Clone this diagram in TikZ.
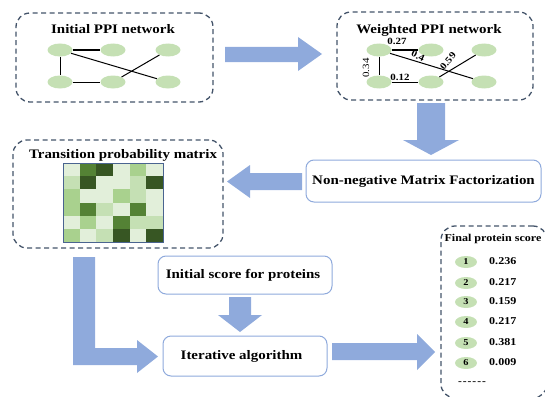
\documentclass[tikz,border=0pt]{standalone}
\usepackage{fontspec}
\setmainfont[FakeStretch=1.15]{Liberation Serif}
\usetikzlibrary{shapes.geometric}
\definecolor{arrowblue}{HTML}{8FAADC}
\definecolor{dashblue}{HTML}{44546A}
\definecolor{nodegreen}{HTML}{C5E0B4}
\definecolor{gA}{HTML}{E2EFDA}
\definecolor{gB}{HTML}{C5E0B4}
\definecolor{gC}{HTML}{A9D18E}
\definecolor{gD}{HTML}{548235}
\definecolor{gE}{HTML}{375623}
\definecolor{matborder}{HTML}{4A6490}
\begin{document}
\begin{tikzpicture}[x=1pt,y=-1pt,
  dashbox/.style={draw=dashblue, line width=1.3pt, dash pattern=on 5pt off 3.5pt, rounded corners=14pt, inner sep=0pt},
  solidbox/.style={draw=arrowblue, line width=1pt, rounded corners=8pt, fill=white, inner sep=0pt},
  ppi/.style={ellipse, fill=nodegreen, minimum width=25pt, minimum height=13pt, inner sep=0pt},
  snode/.style={ellipse, fill=nodegreen, minimum width=22pt, minimum height=12pt, inner sep=0pt, font=\bfseries\fontsize{9}{10}\selectfont},
  ttl/.style={font=\bfseries\fontsize{13}{15}\selectfont, inner sep=0pt},
  wlab/.style={font=\bfseries\fontsize{9.5}{11}\selectfont, inner sep=0pt},
  sval/.style={font=\bfseries\fontsize{10.5}{12}\selectfont, inner sep=0pt, anchor=west},
  edge/.style={line width=1pt, black},
  fat/.style={fill=arrowblue}
]
\useasboundingbox (0,0) rectangle (545,396);

% dashed boxes
\node[dashbox, minimum width=197pt, minimum height=89pt] (box1) at (114.5,57.5) {};
\node[dashbox, minimum width=196pt, minimum height=88pt] (box2) at (435,56) {};
\node[dashbox, minimum width=210pt, minimum height=108pt] (box3) at (118,194) {};
\node[dashbox, minimum width=106pt, minimum height=172pt] (box4) at (494,312) {};

% titles
\node[ttl] (t1) at (113,29) {Initial PPI network};
\node[ttl] (t2) at (429,30) {Weighted PPI network};
\node[ttl] (t3) at (123,155) {Transition probability matrix};

% initial network
\node[ppi] (a1) at (60,50) {};
\node[ppi] (a2) at (113,50) {};
\node[ppi] (a3) at (168,50) {};
\node[ppi] (a4) at (60,82) {};
\node[ppi] (a5) at (113,82) {};
\node[ppi] (a6) at (168,82) {};
\draw[edge] (a1) -- (a2);
\draw[edge] (a1) -- (a4);
\draw[edge] (a4) -- (a5);
\draw[edge] (a1) -- (a6);
\draw[edge] (a3) -- (a5);

% weighted network
\node[ppi] (w1) at (379,50) {};
\node[ppi] (w2) at (431,50) {};
\node[ppi] (w3) at (484,50) {};
\node[ppi] (w4) at (379,82) {};
\node[ppi] (w5) at (431,82) {};
\node[ppi] (w6) at (484,82) {};
\draw[edge] (w1) -- (w2);
\draw[edge] (w1) -- (w4);
\draw[edge] (w4) -- (w5);
\draw[edge] (w1) -- (w6);
\draw[edge] (w3) -- (w5);
\node[wlab] (l27) at (397,41) {0.27};
\node[wlab, rotate=-25] (l4) at (418,56) {0.4};
\node[wlab, rotate=50] (l59) at (448,61) {0.59};
\node[wlab, font=\fontsize{9.5}{11}\selectfont, rotate=90] (l34) at (366,68) {0.34};
\node[wlab] (l12) at (400,77) {0.12};

% matrix
\def\mx{63}\def\my{163}\def\cw{16.667}\def\ch{13.167}
\foreach \row [count=\r from 0] in {{gA,gD,gE,gA,gC,gA},{gB,gE,gA,gA,gB,gE},{gC,gA,gA,gC,gB,gA},{gC,gD,gB,gA,gD,gA},{gA,gC,gA,gD,gB,gB},{gC,gA,gB,gE,gA,gE}}{
  \foreach \col [count=\c from 0] in \row {
    \fill[\col] (\mx+\c*\cw,\my+\r*\ch) rectangle ++(\cw,\ch);
  }
}
\draw[matborder, line width=0.9pt] (63,163) rectangle (163,242);

% solid boxes
\node[solidbox, minimum width=235pt, minimum height=42pt] (nmf) at (423.5,181) {};
\node[ttl] at (nmf.center) {Non-negative Matrix Factorization};
\node[solidbox, minimum width=174pt, minimum height=38pt] (isc) at (245,275) {};
\node[ttl] at (243,275) {Initial score for proteins};
\node[solidbox, minimum width=164pt, minimum height=40pt] (itr) at (245,356) {};
\node[ttl] at (241.5,356) {Iterative algorithm};

% fat arrows
\fill[fat] (225,47) -- (298,47) -- (298,37) -- (322,54) -- (298,71) -- (298,62) -- (225,62) -- cycle;
\fill[fat] (417,103) -- (445,103) -- (445,140) -- (459,140) -- (431,155) -- (403,140) -- (417,140) -- cycle;
\fill[fat] (302,173) -- (250,173) -- (250,165) -- (227,181.5) -- (250,198) -- (250,190) -- (302,190) -- cycle;
\fill[fat] (73,257) -- (95,257) -- (95,348) -- (137,348) -- (137,340) -- (158,356.5) -- (137,373) -- (137,365) -- (73,365) -- cycle;
\fill[fat] (229,297) -- (251,297) -- (251,315) -- (262,315) -- (240,332) -- (218,315) -- (229,315) -- cycle;
\fill[fat] (332,343) -- (417,343) -- (417,334) -- (435,352) -- (417,370) -- (417,360) -- (332,360) -- cycle;

% final score
\node[font=\bfseries\fontsize{10.5}{12}\selectfont, inner sep=0pt] (ft) at (493,239) {Final protein score};
\foreach \n/\v/\yy in {1/0.236/262, 2/0.217/283, 3/0.159/302, 4/0.217/322, 5/0.381/343, 6/0.009/363}{
  \node[snode] (s\n) at (466,\yy) {\n};
  \node[sval] (v\n) at (489,\yy-1) {\v};
}
\node[font=\bfseries\fontsize{10}{12}\selectfont, inner sep=0pt] (dots) at (472,383) {-\kern1pt-\kern1pt-\kern1pt-\kern1pt-\kern1pt-};
\end{tikzpicture}
\end{document}
